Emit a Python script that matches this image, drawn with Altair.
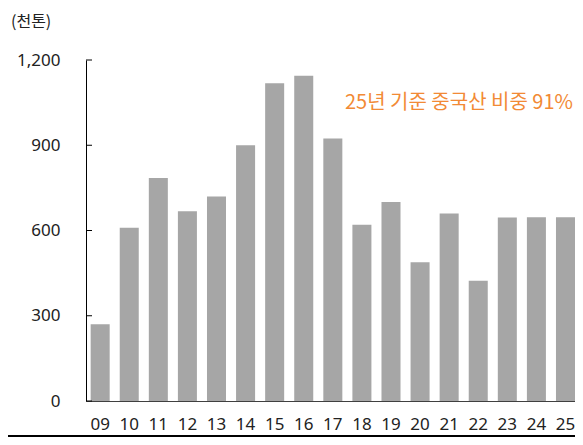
import altair as alt
import pandas as pd

years = ["09", "10", "11", "12", "13", "14", "15", "16", "17", "18", "19", "20", "21", "22", "23", "24", "25"]
values = [270, 610, 785, 668, 720, 900, 1118, 1145, 924, 620, 700, 488, 660, 423, 646, 647, 647]
y_ticks = [0, 300, 600, 900, 1200]
unit_label = ["(천톤)"]
note_label = ["25년 기준 중국산 비중 91%"]
note_value = [1050]

df = pd.DataFrame({"year": years, "value": values})
ticks_df = pd.DataFrame({"v": y_ticks})
unit_df = pd.DataFrame({"t": unit_label})
note_df = pd.DataFrame({"t": note_label, "v": note_value})

FONT = "Noto Sans CJK KR"
NUMFONT = "Noto Sans"

x_enc = alt.X(
    "year:N",
    sort=years,
    title=None,
    scale=alt.Scale(paddingInner=0.346, paddingOuter=0.08, align=1),
    axis=alt.Axis(
        labelAngle=0, ticks=False, tickSize=0, domainColor="#404040", domainWidth=1,
        labelFont=NUMFONT, labelFontSize=17, labelColor="#222222", labelPadding=15,
        grid=False,
    ),
)
y_scale = alt.Scale(domain=[0, 1200], nice=False)

bars = alt.Chart(df).mark_bar(color="#A6A6A6").encode(
    x=x_enc,
    y=alt.Y(
        "value:Q",
        scale=y_scale,
        title=None,
        axis=alt.Axis(
            values=y_ticks, format=",.0f", ticks=False, tickSize=0, domainColor="#000000",
            domainWidth=1, labelFont=NUMFONT, labelFontSize=17, labelColor="#222222",
            labelPadding=26, grid=False,
        ),
    ),
)

tick_marks = alt.Chart(ticks_df).mark_rule(color="#000000", strokeWidth=1).encode(
    y=alt.Y("v:Q", scale=y_scale),
    x=alt.value(0),
    x2=alt.value(6),
)

note = alt.Chart(note_df).mark_text(
    align="left", baseline="middle", font=FONT, fontSize=20, color="#F28A35"
).encode(
    x=alt.value(259),
    y=alt.Y("v:Q", scale=y_scale),
    text="t:N",
)

unit = alt.Chart(unit_df).mark_text(
    align="left", baseline="middle", font=FONT, fontSize=16, color="#222222"
).encode(
    x=alt.value(-75),
    y=alt.value(-38),
    text="t:N",
)

bottom_line = alt.Chart(unit_df).mark_rule(color="#000000", strokeWidth=2).encode(
    x=alt.value(-78),
    x2=alt.value(489),
    y=alt.value(376),
)

chart = alt.layer(bars, tick_marks, note, unit, bottom_line).properties(
    width=489,
    height=341,
    autosize=alt.AutoSizeParams(type="none"),
    padding={"left": 78, "top": 52, "right": 0, "bottom": 36},
).configure_view(stroke=None)

chart.save("out.html", embed_options={"renderer": "svg", "actions": False})
